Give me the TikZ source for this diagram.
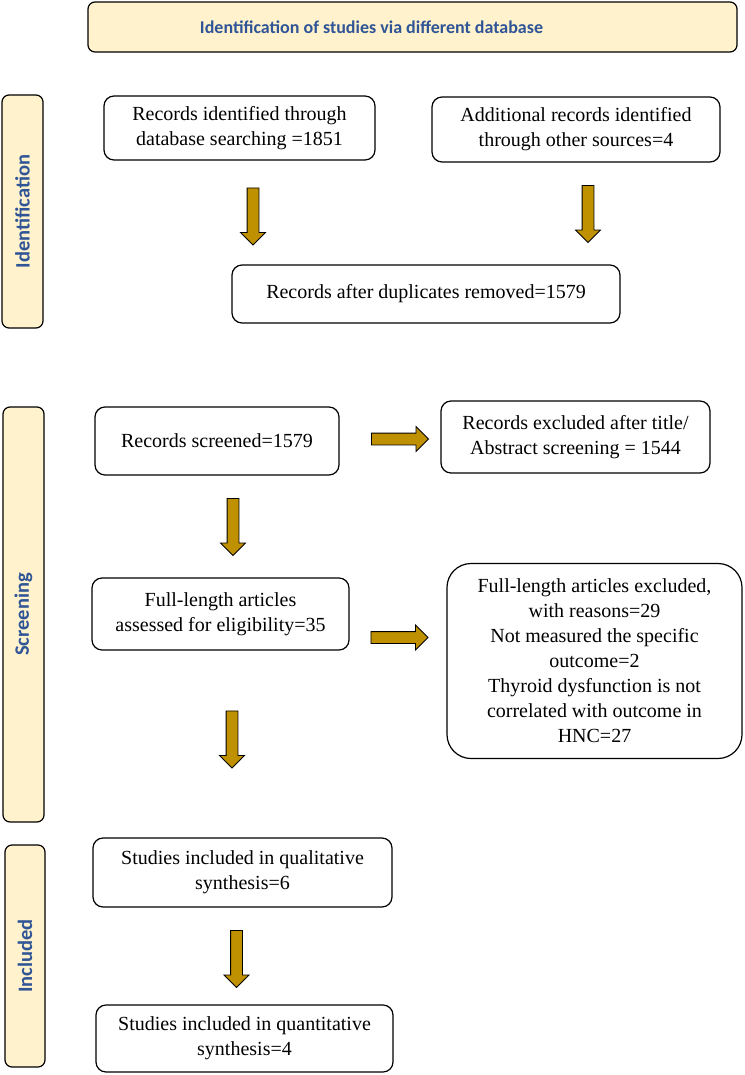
\documentclass[tikz,border=0pt]{standalone}
\usepackage{fontspec}
\setmainfont{Liberation Serif}
\newfontfamily\headfont{Carlito}
\usetikzlibrary{shapes.arrows,calc}
\definecolor{headblue}{HTML}{2F5597}
\definecolor{headfill}{HTML}{FFF2CC}
\definecolor{arrowgold}{HTML}{BF9000}
\begin{document}
\begin{tikzpicture}[%
    x=1pt,y=-1pt,
    box/.style={%
      draw,rounded corners=10pt,line width=1.2pt,align=center,
      inner sep=2pt,font=\fontsize{20}{25}\selectfont},
    head/.style={%
      draw,fill=headfill,rounded corners=7pt,line width=1.2pt,
      inner sep=0pt,text=headblue,font=\headfont\bfseries\fontsize{18}{21}\selectfont},
    side/.style={head,rotate=90,font=\headfont\bfseries\fontsize{20.5}{22}\selectfont},
    fat/.style={%
      single arrow,draw,fill=arrowgold,line width=0.8pt,
      inner xsep=0pt,inner ysep=5.5pt,minimum width=0pt,
      single arrow head extend=6.5pt,minimum height=57pt},
    fatdown/.style={fat,rotate=-90}
    ]
    \useasboundingbox (0,0) rectangle (744,1075);
    % headings
    \node[head,minimum width=649pt,minimum height=50pt]at(412.5,27)(title){};
    \node[text=headblue,font=\headfont\bfseries\fontsize{18}{21}\selectfont]
    at(371.5,27)(titletext){Identification of studies via different database};
    \node[side,minimum width=233pt,minimum height=41pt]at(22.5,211.5)(idside){Identification};
    \node[side,minimum width=415pt,minimum height=41pt]at(23.5,614.5)(scrside){Screening};
    \node[side,minimum width=222pt,minimum height=40pt]at(25,956)(incside){Included};
    % boxes
    \node[box,minimum width=271pt,minimum height=64pt]at(239.5,128)(rec)
    {Records identified through\\database searching =1851};
    \node[box,minimum width=288pt,minimum height=65pt]at(576,129.5)(add)
    {Additional records identified\\through other sources=4};
    \node[box,minimum width=388pt,minimum height=58pt]at(426,294)(dup)
    {Records after duplicates removed=1579};
    \node[box,minimum width=244pt,minimum height=68pt]at(217,441)(scr)
    {Records screened=1579};
    \node[box,minimum width=269pt,minimum height=72pt]at(575.5,437)(exc)
    {Records excluded after title/\\Abstract screening = 1544};
    \node[box,minimum width=257pt,minimum height=72pt]at(220.5,614)(full)
    {Full-length articles\\assessed for eligibility=35};
    \node[box,rounded corners=24pt,minimum width=295pt,minimum height=195pt]
    at(594.5,661)(reas)
    {Full-length articles excluded,\\with reasons=29\\Not measured the specific\\
      outcome=2\\Thyroid dysfunction is not\\correlated with outcome in\\HNC=27};
    \node[box,minimum width=299pt,minimum height=69pt]at(242.5,872.5)(qual)
    {Studies included in qualitative\\synthesis=6};
    \node[box,minimum width=297pt,minimum height=67pt]at(244.5,1038.5)(quan)
    {Studies included in quantitative\\synthesis=4};
    % arrows
    \node[fatdown]at(253,213.5)(a1){};
    \node[fatdown]at(588,211)(a2){};
    \node[fat]at($(scr.east)!0.5!(exc.west)+(7,0)$)(a3){};
    \node[fatdown]at(233,524)(a4){};
    \node[fat]at($(full.east)!0.5!(reas.west)+(-1.5,0)$)(a5){};
    \node[fatdown]at(232,736.5)(a6){};
    \node[fatdown]at($(qual.south)!0.5!(quan.north)+(-7,0)$)(a7){};
  \end{tikzpicture}
\end{document}
